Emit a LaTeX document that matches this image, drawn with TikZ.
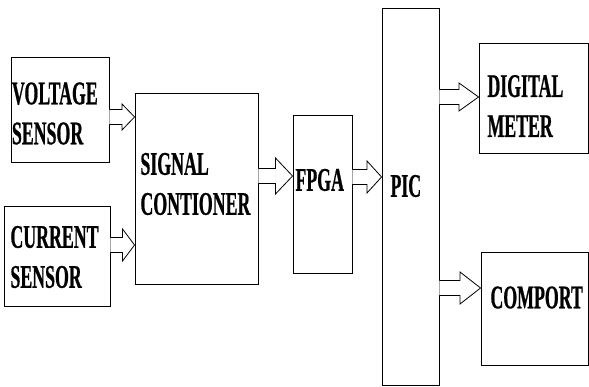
\documentclass[tikz,border=0pt]{standalone}
\usepackage{fontspec}
\newfontfamily\blockfont{Liberation Serif}[FakeStretch=0.54,FakeBold=0.6]
\usetikzlibrary{calc}

\begin{document}
\begin{tikzpicture}[x=1pt,y=-1pt,line width=0.9pt,
  blk/.style={draw,inner sep=0,minimum width=#1},
  txt/.style={anchor=west,align=left,inner sep=0,
    font=\blockfont\bfseries\fontsize{33}{40}\selectfont},
  hollow/.style={draw,fill=white,line width=0.8pt,line join=miter}]
\useasboundingbox (0,0) rectangle (589,387);
% ---------- sensors ----------
\node[blk=98,minimum height=105] (volt) at (60,109.5) {};
\node[blk=106,minimum height=100] (curr) at (57,256) {};
\node[txt] (volttxt) at (11.5,113.5) {VOLTAGE\\ SENSOR};
\node[txt] (currtxt) at (10,257) {CURRENT\\SENSOR};
% ---------- signal conditioner, fpga, pic ----------
\node[blk=123,minimum height=191] (sig) at (196.5,188.5) {};
\node[blk=59,minimum height=158] (fpga) at (322.5,194) {};
\node[blk=57,minimum height=377] (pic) at (410.5,196.5) {};
\node[txt] (sigtxt) at (140,184) {SIGNAL\\CONTIONER};
\node[txt] (fpgatxt) at (295,180) {FPGA};
\node[txt] (pictxt) at (390,186) {PIC};
% ---------- outputs ----------
\node[blk=109,minimum height=110] (dm) at (533.5,98) {};
\node[blk=107,minimum height=113] (com) at (534.5,308.5) {};
\node[txt] (dmtxt) at (487,106) {DIGITAL\\METER};
\node[txt] (comtxt) at (490,297.5) {COMPORT};
% ---------- hollow block arrows, head = half the gap ----------
\foreach \s/\t/\y/\h in {volt/sig/117/13, curr/sig/245/16, sig/fpga/176/18,
                      fpga/pic/177/16, pic/dm/97/14, pic/com/288/16}{
  \coordinate (lvl) at (0,\y);
  \draw[hollow] let \p1=(\s.east |- lvl), \p2=(\t.west |- lvl),
      \n1={(\x2-\x1)/2} in
    (\x1,\y1+7.5pt) -- (\x1+\n1,\y1+7.5pt) -- (\x1+\n1,\y1+\h pt)
    -- (\x2,\y1) -- (\x1+\n1,\y1-\h pt) -- (\x1+\n1,\y1-7.5pt)
    -- (\x1,\y1-7.5pt);}
\end{tikzpicture}
\end{document}
